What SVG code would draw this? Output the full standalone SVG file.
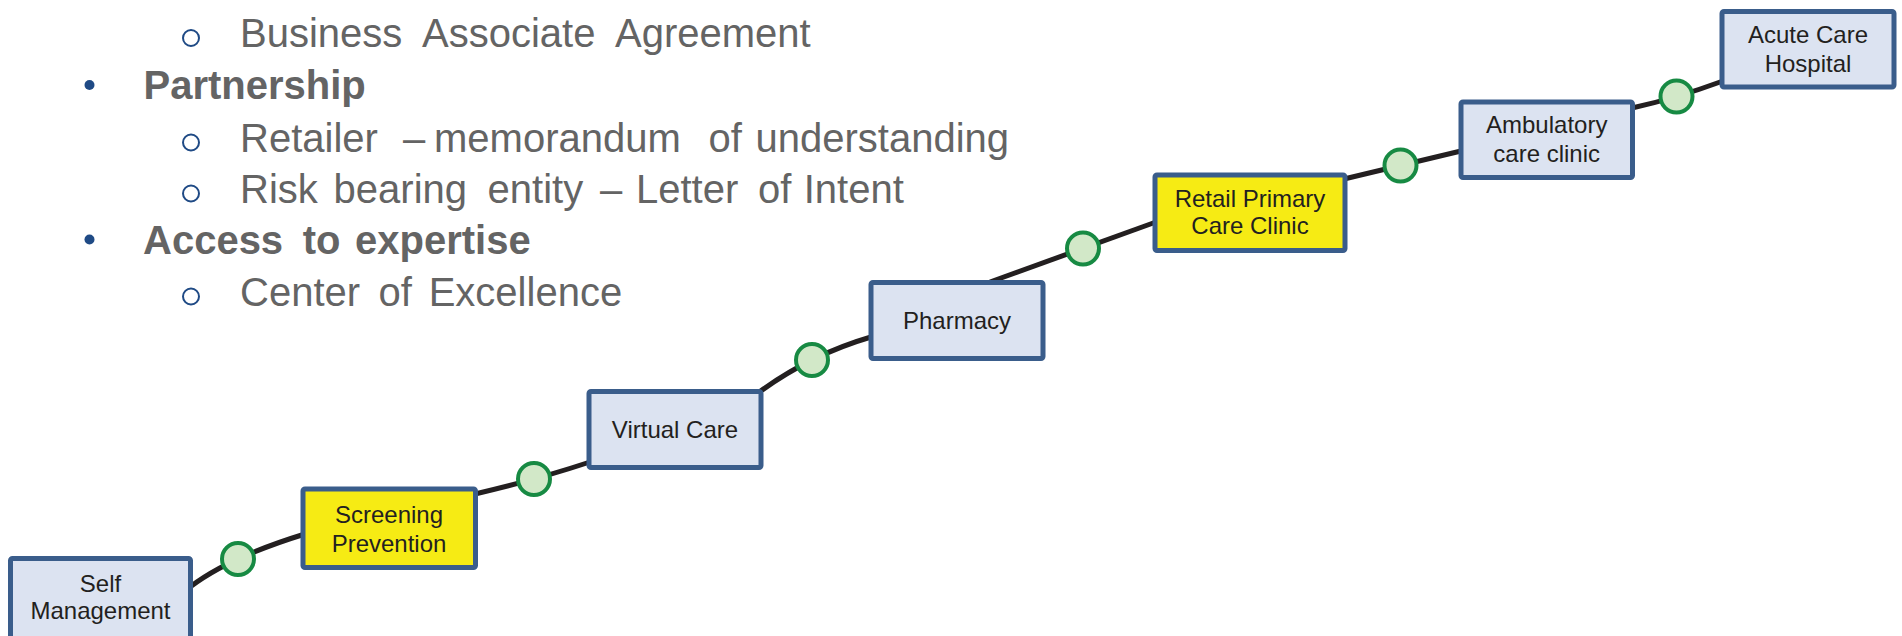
<svg xmlns="http://www.w3.org/2000/svg" width="1902" height="636" viewBox="0 0 1902 636">
<style>
.bt{font-family:"Liberation Sans",Arial,sans-serif;font-size:40px;fill:#646464}
.bb{font-weight:bold}
.sub{fill:none;stroke:#1F4A85;stroke-width:2}
.dot{fill:#1F4A85}
.box{fill:#DCE3F1;stroke:#3A5D8B;stroke-width:5}
.hl{fill:#F6EB14}
.lbl{font-family:"Liberation Sans",Arial,sans-serif;font-size:24px;fill:#231F20;text-anchor:middle}
.conn{fill:none;stroke:#231F20;stroke-width:5;stroke-linecap:butt}
.ms{fill:#D2E8C8;stroke:#178A43;stroke-width:4}
</style>
<rect width="1902" height="636" fill="#FFFFFF"/>
<g id="bullets">
<circle class="sub" cx="191" cy="38" r="8"/>
<text class="bt" y="47"><tspan x="240">Business</tspan><tspan x="422">Associate</tspan><tspan x="615">Agreement</tspan></text>
<circle class="dot" cx="89.5" cy="85" r="5"/>
<text class="bt bb" x="143.5" y="99">Partnership</text>
<circle class="sub" cx="191" cy="142.5" r="8"/>
<text class="bt" y="151.5"><tspan x="240">Retailer</tspan><tspan x="403">–</tspan><tspan x="434">memorandum</tspan><tspan x="708.6">of</tspan><tspan x="755.5">understanding</tspan></text>
<circle class="sub" cx="191" cy="193.5" r="8"/>
<text class="bt" y="202.5"><tspan x="240">Risk</tspan><tspan x="333.6">bearing</tspan><tspan x="487.6">entity</tspan><tspan x="600">–</tspan><tspan x="636">Letter</tspan><tspan x="758">of</tspan><tspan x="803.7">Intent</tspan></text>
<circle class="dot" cx="89.5" cy="239.5" r="5"/>
<text class="bt bb" y="254"><tspan x="143">Access</tspan><tspan x="302.7">to</tspan><tspan x="355">expertise</tspan></text>
<circle class="sub" cx="191" cy="296.5" r="8"/>
<text class="bt" y="305.5"><tspan x="240">Center</tspan><tspan x="378.4">of</tspan><tspan x="428.7">Excellence</tspan></text>
</g>
<g id="connectors">
<path class="conn" d="M190,587 Q228.5,557.5 305,534"/>
<path class="conn" d="M475,494 Q535.5,480 590,462"/>
<path class="conn" d="M758,393 Q809.5,355 871,337"/>
<path class="conn" d="M990,282 Q1093,245 1156,222"/>
<path class="conn" d="M1344,179 Q1398.5,166 1461,151"/>
<path class="conn" d="M1632,108 Q1675.5,98.5 1723,81"/>
<circle class="ms" cx="238" cy="559" r="16"/>
<circle class="ms" cx="534" cy="479" r="16"/>
<circle class="ms" cx="812" cy="360" r="16"/>
<circle class="ms" cx="1083" cy="248.5" r="16"/>
<circle class="ms" cx="1400.5" cy="165.5" r="16"/>
<circle class="ms" cx="1676.5" cy="96.5" r="16"/>
</g>
<g id="self-management">
<rect class="box" x="10.5" y="558.5" width="180" height="100" rx="2"/>
<text class="lbl" x="100.5"><tspan x="100.5" y="591.7">Self</tspan><tspan x="100.5" y="619">Management</tspan></text>
</g>
<g id="screening-prevention">
<rect class="box hl" x="303" y="489" width="172.5" height="78.5" rx="2"/>
<text class="lbl"><tspan x="389" y="523">Screening</tspan><tspan x="389" y="551.7">Prevention</tspan></text>
</g>
<g id="virtual-care">
<rect class="box" x="589" y="391.5" width="172" height="76" rx="2"/>
<text class="lbl" x="675" y="437.7">Virtual Care</text>
</g>
<g id="pharmacy">
<rect class="box" x="871" y="282.5" width="172" height="76" rx="2"/>
<text class="lbl" x="957" y="329">Pharmacy</text>
</g>
<g id="retail-primary-care-clinic">
<rect class="box hl" x="1155" y="175" width="190" height="75.5" rx="2"/>
<text class="lbl"><tspan x="1250" y="206.7">Retail Primary</tspan><tspan x="1250" y="234">Care Clinic</tspan></text>
</g>
<g id="ambulatory-care-clinic">
<rect class="box" x="1461" y="102" width="171.5" height="75.5" rx="2"/>
<text class="lbl"><tspan x="1546.7" y="133.3">Ambulatory</tspan><tspan x="1546.7" y="162.3">care clinic</tspan></text>
</g>
<g id="acute-care-hospital">
<rect class="box" x="1722" y="11.5" width="172" height="75.5" rx="2"/>
<text class="lbl"><tspan x="1808" y="42.7">Acute Care</tspan><tspan x="1808" y="71.7">Hospital</tspan></text>
</g>
</svg>
